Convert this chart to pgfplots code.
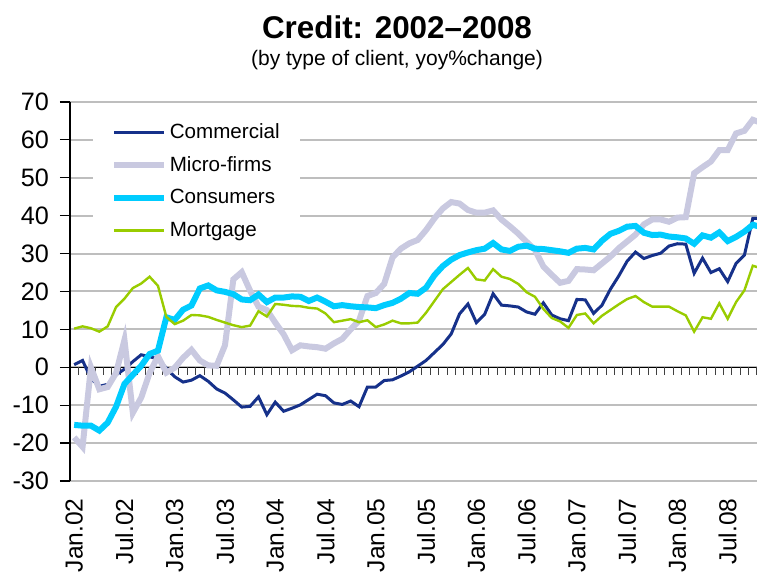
\documentclass[border=0pt]{standalone}
\usepackage{fontspec}
\setmainfont{Liberation Sans}
\usepackage{pgfplots}
\usepackage{pgfplotstable}
\pgfplotsset{compat=1.18}

\definecolor{comm}{HTML}{16318A}
\definecolor{micro}{HTML}{C9C9E0}
\definecolor{cons}{HTML}{00CCFF}
\definecolor{mort}{HTML}{99CC00}
\definecolor{gridc}{HTML}{BEBEBE}

% month index (0 = Jan.02), yoy % change
\pgfplotstableread{
i  com   mic   con   mor
0  0.7  -18.5 -15.2  10.2
1  1.8  -21.0 -15.4  10.8
2  -3.0   0.0 -15.4  10.3
3  -5.0  -5.8 -16.7   9.4
4  -4.5  -5.2 -14.6  10.8
5  -2.0  -1.5 -10.4  15.9
6  -0.5   7.2  -4.4  18.1
7   1.5 -12.0  -2.0  20.9
8   3.3  -8.0   0.4  22.1
9   2.8  -1.5   3.5  23.9
10  2.2   2.9   4.4  21.5
11 -0.2  -1.4  13.2  13.3
12 -2.5  -0.1  12.5  11.4
13 -3.9   2.5  15.2  12.3
14 -3.4   4.6  16.3  13.8
15 -2.2   1.8  20.8  13.7
16 -3.7   0.5  21.6  13.3
17 -5.7   0.4  20.3  12.5
18 -6.8   5.8  19.9  11.8
19 -8.6  23.2  19.3  11.1
20 -10.5 25.1  17.9  10.6
21 -10.3 20.2  17.7  11.0
22 -7.8  16.0  19.2  14.8
23 -12.5 15.1  17.2  13.4
24 -9.2  11.8  18.4  16.7
25 -11.6  8.7  18.4  16.5
26 -10.8  4.5  18.7  16.2
27 -9.9   5.8  18.6  16.1
28 -8.5   5.5  17.5  15.7
29 -7.1   5.3  18.4  15.5
30 -7.5   4.9  17.3  14.2
31 -9.4   6.3  16.1  11.9
32 -9.8   7.5  16.4  12.3
33 -8.9  10.0  16.1  12.7
34 -10.4 12.3  15.9  11.9
35 -5.2  18.8  15.8  12.4
36 -5.2  19.6  15.6  10.6
37 -3.5  22.0  16.4  11.3
38 -3.3  29.0  17.0  12.3
39 -2.3  31.3  18.1  11.6
40 -1.2  32.7  19.6  11.6
41  0.3  33.6  19.4  11.8
42  1.8  36.2  21.0  14.4
43  3.9  39.3  24.3  17.5
44  6.0  41.9  26.7  20.6
45  8.8  43.6  28.4  22.5
46 14.1  43.2  29.6  24.4
47 16.7  41.5  30.3  26.2
48 11.8  40.8  30.9  23.2
49 14.0  40.8  31.3  22.9
50 19.4  41.4  32.8  25.9
51 16.4  39.0  31.1  23.9
52 16.2  37.2  30.7  23.3
53 15.9  35.3  31.8  22.0
54 14.6  33.1  32.1  19.8
55 14.0  31.0  31.3  18.6
56 17.0  26.6  31.2  15.4
57 13.8  24.4  30.9  13.0
58 12.8  22.3  30.6  12.1
59 12.3  22.8  30.2  10.4
60 17.9  25.9  31.3  13.8
61 17.8  25.8  31.5  14.2
62 14.2  25.6  31.1  11.6
63 16.4  27.4  33.4  13.6
64 20.6  29.2  35.2  15.1
65 24.1  31.4  36.0  16.6
66 28.0  33.2  37.1  18.0
67 30.4  35.0  37.3  18.8
68 28.7  37.7  35.5  17.2
69 29.5  39.0  34.9  16.0
70 30.1  39.0  35.0  16.0
71 32.0  38.4  34.5  16.0
72 32.6  39.5  34.3  14.8
73 32.5  39.6  34.0  13.7
74 24.8  51.2  32.6   9.4
75 28.8  52.8  34.8  13.2
76 25.0  54.3  34.2  12.8
77 26.0  57.3  35.6  16.9
78 22.6  57.3  33.3  12.8
79 27.4  61.7  34.4  17.2
80 29.6  62.4  35.8  20.3
81 39.3  65.3  37.6  26.8
82 39.3  64.5  37.0  26.1
}\credit

\begin{document}
\begin{tikzpicture}
\begin{axis}[
  at={(0,0)}, anchor=south west,
  scale only axis, width=343.5pt, height=189.5pt,
  xmin=-0.5, xmax=81.5, ymin=-30, ymax=70,
  axis y line*=left, axis x line*=bottom,
  x axis line style={draw=none},
  y axis line style={black, line width=0.6pt},
  ytick={-30,-20,...,70},
  yticklabels={-30,-20,-10,0,10,20,30,40,50,60,70},
  ytick align=outside, ytick style={black, line width=0.6pt},
  major tick length=5pt,
  ymajorgrids, grid style={gridc, line width=1pt},
  xtick={0,6,...,78},
  xticklabels={Jan.02,Jul.02,Jan.03,Jul.03,Jan.04,Jul.04,Jan.05,Jul.05,Jan.06,Jul.06,Jan.07,Jul.07,Jan.08,Jul.08},
  xtick style={draw=none},
  xticklabel style={rotate=90, anchor=east, inner xsep=8.5pt, font=\fontsize{12.3}{14}\selectfont},
  yticklabel style={font=\fontsize{12.6}{14}\selectfont, xshift=-2pt},
  legend cell align=left,
  legend image code/.code={\draw[#1] (0pt,0pt) -- (25pt,0pt);},
  legend style={at={(rel axis cs:0.0335,0.963)}, anchor=north west,
    draw=none, fill=white, font=\fontsize{10.3}{12}\selectfont,
    inner xsep=9pt, inner ysep=3pt, row sep=6pt,
    nodes={inner xsep=1.2pt, inner ysep=0pt, text height=8pt, text depth=2.3pt}},
]
\draw[black, line width=0.6pt] (axis cs:-0.5,0) -- (axis cs:81.5,0);
\pgfplotsinvokeforeach{0.5,1.5,...,81.5}{\draw[black!75, line width=0.5pt] (axis cs:#1,0) -- ++(0pt,-4pt);}
\addplot[comm, line width=1.5pt] table[x=i, y=com] {\credit};
\addlegendentry{Commercial}
\addplot[micro, line width=3pt] table[x=i, y=mic] {\credit};
\addlegendentry{Micro-firms}
\addplot[cons, line width=3pt] table[x=i, y=con] {\credit};
\addlegendentry{Consumers}
\addplot[mort, line width=1.2pt] table[x=i, y=mor] {\credit};
\addlegendentry{Mortgage}
\end{axis}
\node[anchor=base, font=\bfseries\fontsize{15.7}{18}\selectfont] at (163.5pt,221pt) {Credit: 2002--2008};
\node[anchor=base, font=\fontsize{10.5}{12}\selectfont] at (163.5pt,207.5pt) {(by type of client, yoy\%change)};
\pgfresetboundingbox
\path[use as bounding box] (-35pt,-48pt) rectangle (343.5pt,240.5pt);
\end{tikzpicture}
\end{document}
